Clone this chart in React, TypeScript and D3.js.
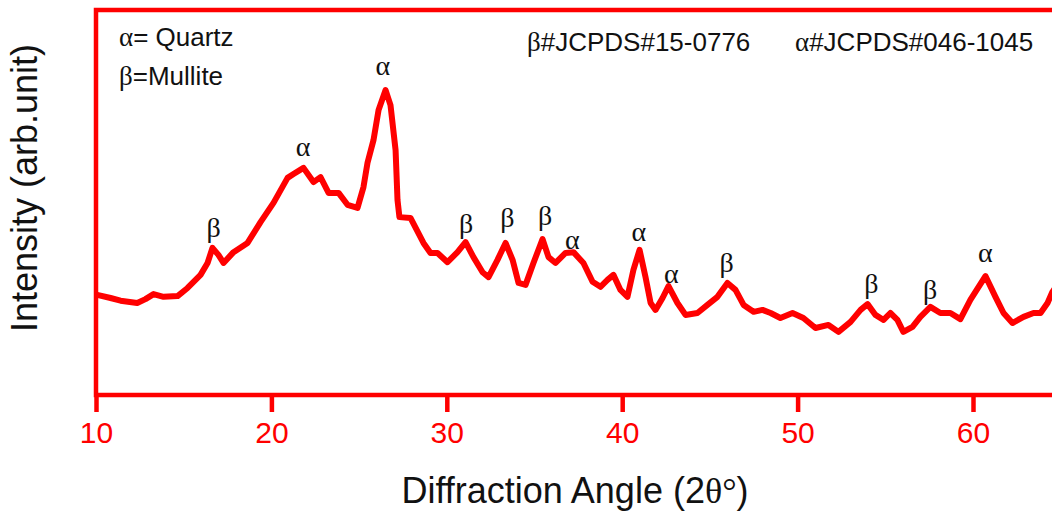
import * as d3 from "d3";
import { useEffect, useRef } from "react";

// diffraction angle (2θ, degrees) and intensity (arb. unit)
const angles = [
  10.07, 10.83, 11.4, 12.35, 12.82, 13.28, 13.85, 14.65, 15.22, 15.96, 16.36, 16.64, 16.98, 17.27, 17.84,
  18.64, 19.38, 20.12, 20.92, 21.26, 21.83, 22.4, 22.8, 23.26, 23.83, 24.34, 24.91, 25.25, 25.48, 25.82,
  26.11, 26.51, 26.79, 27.08, 27.19, 27.3, 27.93, 28.67, 29.07, 29.47, 30.04, 30.61, 31.07, 31.52, 32.04,
  32.38, 32.89, 33.35, 33.75, 34.09, 34.49, 34.94, 35.46, 35.8, 36.2, 36.77, 37.22, 37.79, 38.31, 38.76,
  39.16, 39.5, 39.9, 40.3, 40.64, 40.99, 41.33, 41.62, 41.9, 42.3, 42.64, 43.15, 43.61, 44.29, 44.86,
  45.43, 46.0, 46.46, 46.92, 47.49, 48.0, 48.46, 49.02, 49.71, 50.33, 51.02, 51.76, 52.33, 53.02, 53.59,
  53.99, 54.44, 54.9, 55.29, 55.69, 56.03, 56.55, 57.0, 57.57, 58.14, 58.71, 59.28, 59.85, 60.71, 61.28,
  61.74, 62.25, 62.88, 63.45, 63.85, 64.25, 64.53, 64.99,
];
const intensity = [
  26.0, 25.2, 24.5, 23.9, 24.9, 26.2, 25.5, 25.7, 27.8, 31.2, 34.3, 38.2, 36.4, 34.3, 37.1,
  39.5, 44.9, 49.9, 56.4, 57.4, 59.0, 55.3, 56.6, 52.5, 52.5, 49.4, 48.6, 54.0, 60.3, 66.2,
  74.0, 79.2, 75.3, 63.6, 50.6, 46.2, 46.0, 39.5, 36.9, 36.9, 34.5, 37.1, 39.7, 35.8, 31.9,
  30.6, 35.1, 39.5, 35.1, 29.1, 28.6, 34.3, 40.5, 35.8, 34.3, 36.9, 37.1, 34.3, 29.4, 28.1,
  29.9, 31.2, 27.3, 25.5, 32.5, 37.7, 30.6, 23.9, 22.1, 25.2, 28.3, 23.9, 20.8, 21.3, 23.4,
  25.5, 29.1, 27.3, 23.4, 21.6, 22.1, 21.3, 20.0, 21.3, 20.0, 17.4, 18.2, 16.4, 19.0, 22.1,
  23.6, 20.8, 19.5, 21.3, 19.5, 16.4, 17.7, 20.3, 22.9, 21.3, 21.3, 19.7, 24.7, 30.9, 25.5,
  21.3, 18.7, 20.3, 21.3, 21.3, 23.9, 26.8, 29.9,
];

// phase labels over the peaks
const peakAngles = [16.7, 21.8, 26.35, 31.1, 33.45, 35.6, 37.15, 40.95, 42.8, 45.95, 54.2, 57.55, 60.7];
const peakLabelLevels = [43.5, 64.5, 85.5, 44.5, 46.0, 46.5, 40.5, 42.5, 31.5, 34.5, 29.0, 27.5, 37.0];
const peakPhases = ["β", "α", "α", "β", "β", "β", "α", "α", "α", "β", "β", "β", "α"];

const xTicks = [10, 20, 30, 40, 50, 60];

const App = () => {
  const svgRef = useRef<SVGSVGElement>(null);

  useEffect(() => {
    const svg = d3.select(svgRef.current);
    const width = 1052;
    const margin = { top: 10, left: 96, bottom: 395 };
    const red = "#ff0000";
    const sans = "'Liberation Sans', Arial, sans-serif";
    const serif = "'Liberation Serif', 'DejaVu Serif', serif";

    svg.selectAll("*").remove();

    const x = d3.scaleLinear().domain([10, 70]).range([margin.left, margin.left + 60 * 17.54]);
    const y = d3.scaleLinear().domain([0, 100]).range([margin.bottom, margin.bottom - 385]);

    svg.append("defs")
      .append("clipPath")
      .attr("id", "plot-clip")
      .append("rect")
      .attr("x", margin.left)
      .attr("y", margin.top)
      .attr("width", width - margin.left)
      .attr("height", margin.bottom - margin.top);

    const points = angles.map((a, i) => [a, intensity[i]] as [number, number]);
    const line = d3.line<[number, number]>()
      .x(d => x(d[0]))
      .y(d => y(d[1]))
      .curve(d3.curveLinear);

    svg.append("path")
      .datum(points)
      .attr("fill", "none")
      .attr("stroke", red)
      .attr("stroke-width", 6)
      .attr("stroke-linejoin", "round")
      .attr("clip-path", "url(#plot-clip)")
      .attr("d", line);

    // frame
    svg.append("rect")
      .attr("x", margin.left)
      .attr("y", margin.top)
      .attr("width", x(70) - margin.left)
      .attr("height", margin.bottom - margin.top)
      .attr("fill", "none")
      .attr("stroke", red)
      .attr("stroke-width", 4.5);

    const xAxis = svg.append("g")
      .attr("transform", `translate(0,${margin.bottom})`)
      .call(d3.axisBottom(x).tickValues(xTicks).tickSize(17).tickPadding(10).tickFormat(d3.format("d")));
    xAxis.select(".domain").remove();
    xAxis.selectAll(".tick line").attr("stroke", red).attr("stroke-width", 4.5);
    xAxis.selectAll(".tick text")
      .attr("fill", red)
      .style("font-family", sans)
      .style("font-size", "30px");

    // peak labels
    peakAngles.forEach((a, i) => {
      svg.append("text")
        .attr("x", x(a))
        .attr("y", y(peakLabelLevels[i]))
        .attr("text-anchor", "middle")
        .attr("dominant-baseline", "central")
        .attr("font-family", serif)
        .attr("font-size", 28)
        .attr("fill", "#111")
        .text(peakPhases[i]);
    });

    // legend texts
    const note = (tx: number, ty: number, greek: string, rest: string) => {
      const t = svg.append("text")
        .attr("x", tx)
        .attr("y", ty)
        .attr("fill", "#111")
        .attr("font-family", sans)
        .attr("font-size", 26);
      t.append("tspan").attr("font-family", serif).attr("font-size", 27).text(greek);
      t.append("tspan").text(rest);
    };
    note(119, 46, "α", "= Quartz");
    note(119, 85, "β", "=Mullite");
    note(527, 51, "β", "#JCPDS#15-0776");
    note(795, 51, "α", "#JCPDS#046-1045");

    // axis titles
    const xt = svg.append("text")
      .attr("x", 575)
      .attr("y", 503)
      .attr("text-anchor", "middle")
      .attr("fill", "#111")
      .attr("font-family", sans)
      .attr("font-size", 36);
    xt.append("tspan").text("Diffraction Angle (2");
    xt.append("tspan").attr("font-family", serif).text("θ°");
    xt.append("tspan").text(")");

    svg.append("text")
      .attr("transform", "translate(37,188) rotate(-90)")
      .attr("text-anchor", "middle")
      .attr("fill", "#111")
      .attr("font-family", sans)
      .attr("font-size", 36)
      .text("Intensity (arb.unit)");
  }, []);

  return (
    <svg
      ref={svgRef}
      width={1052}
      height={516}
      style={{ position: "absolute", left: 0, top: 0, display: "block", overflow: "hidden", background: "#fff" }}
    />
  );
};

export default App;
